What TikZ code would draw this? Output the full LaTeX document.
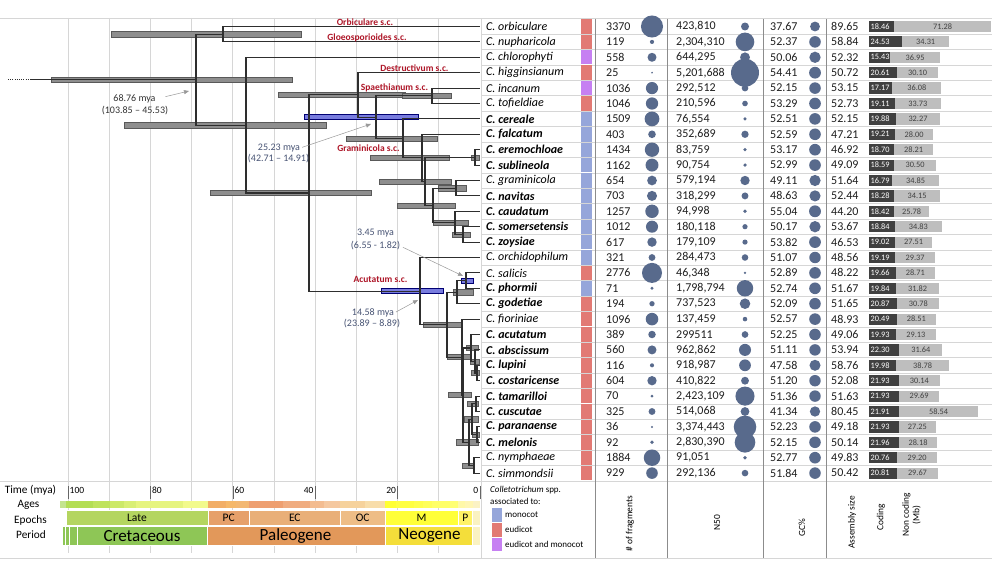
\documentclass[tikz,border=0pt]{standalone}
\usepackage{fontspec}
\setmainfont{Carlito}
\usepackage{xcolor}
\usetikzlibrary{arrows.meta}

\definecolor{bubble}{RGB}{88,106,140}
\definecolor{monocot}{RGB}{150,166,218}
\definecolor{eudicot}{RGB}{226,122,116}
\definecolor{eumono}{RGB}{198,128,242}
\definecolor{scred}{RGB}{174,22,40}
\definecolor{annblue}{RGB}{72,84,116}
\definecolor{hpdgray}{RGB}{142,142,142}
\definecolor{hpdblue}{RGB}{120,124,222}
\definecolor{codbar}{RGB}{64,64,64}
\definecolor{ncbar}{RGB}{190,190,190}
\definecolor{gridc}{RGB}{214,214,214}
\definecolor{cretac}{RGB}{142,198,86}
\definecolor{paleog}{RGB}{226,152,90}
\definecolor{neog}{RGB}{244,222,58}
\definecolor{quat}{RGB}{250,242,194}

\begin{document}
\begin{tikzpicture}[x=1pt,y=-1pt,
    branch/.style={draw=black!82,line width=1.1pt},
    hpd/.style={fill=hpdgray,draw=black!65,line width=0.5pt},
    hpdb/.style={fill=hpdblue,draw=blue!45!black,line width=0.5pt},
    nm/.style={anchor=west,inner sep=0pt,font=\fontsize{12}{13}\selectfont\itshape},
    nmb/.style={anchor=west,inner sep=0pt,font=\fontsize{12}{13}\selectfont\bfseries\itshape},
    num/.style={anchor=west,inner sep=0pt,font=\fontsize{12}{13}\selectfont,text=black!88},
    barnum/.style={inner sep=0pt,font=\fontsize{8.3}{9}\selectfont},
    sclab/.style={font=\fontsize{9.5}{10}\selectfont\bfseries,text=scred,inner sep=0pt},
    ann/.style={font=\fontsize{10}{11}\selectfont,inner sep=0pt},
    annarrow/.style={draw=black!40,line width=0.5pt,-{Triangle[length=5pt,width=4pt]}},
    gridline/.style={draw=gridc,line width=0.8pt},
    rowline/.style={draw=gridc,line width=0.6pt},
    colline/.style={draw=black!45,line width=0.6pt},
    cell/.style={draw=white,line width=0.8pt},
    rowlab/.style={font=\fontsize{11.3}{12}\selectfont,inner sep=0pt},
    hdr/.style={rotate=90,font=\fontsize{9.4}{10.5}\selectfont,inner sep=0pt,align=center},
    leg/.style={anchor=west,font=\fontsize{9}{10}\selectfont,inner sep=0pt}
]
    \useasboundingbox (0,0) rectangle (992,567);
    \fill[white] (0,0) rectangle (992,567);
    % grid
    \foreach \t in {10,20,...,100} { \draw[gridline] ({480-4.12*\t},18) -- ({480-4.12*\t},553); }
    \draw[rowline] (0,18.8) -- (992,18.8);
    \foreach \r in {1,...,29} { \draw[rowline] (481,{18.8+15.4*\r}) -- (992,{18.8+15.4*\r}); }
    \draw[rowline] (0,481.5) -- (992,481.5);
    \draw[rowline] (0,558) -- (992,558);
    \draw[rowline] (481,18.8) -- (481,558);
    \foreach \c in {595,667,763,826} { \draw[colline] (\c,18.8) -- (\c,558); }

    % time scale
    \foreach \a/\b/\c in {102/100.5/C4E48E,100.5/93.9/B3DE53,93.9/89.8/BFE35D,89.8/86.3/CCE968,
        86.3/83.6/D9EF74,83.6/72.1/E6F47F,72.1/66/F2FA8C,66/61.6/F2AE66,61.6/59.2/F5B86A,
        59.2/56/F3B872,56/47.8/EE9F70,47.8/41.2/F0AC80,41.2/37.8/F3BC90,37.8/33.9/F5C8A0,
        33.9/27.8/F6D29C,27.8/23.03/F8DDAA,23.03/20.44/FFFF33,20.44/15.97/FFFF41,15.97/13.82/FFFF4D,
        13.82/11.63/FFFF59,11.63/7.25/FFFF66,7.25/5.33/FFFF73,5.33/3.6/FFF8A8,3.6/1.8/FFF6B4,1.8/0/FBF2C4} {
        \edef\tmp{\noexpand\definecolor{agec}{HTML}{\c}}\tmp
        \fill[agec] ({480-4.12*\a},500.7) rectangle ({480-4.12*\b},508.3);
    }
    \foreach \a/\b/\c/\t [count=\j] in {100.5/66/B4D560/Late,66/56/E6A06A/PC,56/33.9/E9AF78/EC,
        33.9/23.03/EEBD86/OC,23.03/5.33/FFFF38/M,5.33/1.8/FFF266/P,1.8/0/FAF2C2/{}} {
        \edef\tmp{\noexpand\definecolor{epc}{HTML}{\c}}\tmp
        \path[cell,fill=epc] ({480-4.12*\a},510) rectangle ({480-4.12*\b},525.5);
        \node[font=\fontsize{11.5}{12}\selectfont,inner sep=0pt] (ep-\j) at ({480-2.06*(\a+\b)},517.7) {\t};
    }
    \foreach \l/\r in {62/65,65/69.6,69.6/77.5} { \path[cell,fill=cretac] (\l,526.7) rectangle (\r,545); }
    \path[cell,fill=cretac] (77.5,526.7) rectangle (207.5,545);
    \path[cell,fill=paleog] (207.5,526.7) rectangle (385,545);
    \path[cell,fill=neog] (385,526.7) rectangle (472.6,545);
    \path[cell,fill=quat] (472.6,526.7) rectangle (480,545);
    \node[font=\fontsize{17}{18}\selectfont,inner sep=0pt] (per-cret) at (142,536) {Cretaceous};
    \node[font=\fontsize{17}{18}\selectfont,inner sep=0pt] (per-pal) at (295.5,536.5) {Paleogene};
    \node[font=\fontsize{17}{18}\selectfont,inner sep=0pt] (per-neo) at (429.5,536) {Neogene};
    \node[rowlab] (lab-time) at (30.5,490) {Time (mya)};
    \node[rowlab] (lab-ages) at (28.5,505) {Ages};
    \node[rowlab] (lab-epochs) at (30.5,520) {Epochs};
    \node[rowlab] (lab-period) at (31,535) {Period};
    \foreach \t/\side in {100/west,80/west,60/west,40/east,20/east,0/east} {
        \draw[black!60,line width=0.6pt] ({480-4.12*\t},486) -- ({480-4.12*\t},499);
        \node[anchor=\side,inner sep=1.5pt,font=\fontsize{9.5}{10}\selectfont] (tk-\t) at ({480-4.12*\t},490) {\t};
    }

    % table
    \foreach \k/\nm/\sty/\col/\fr/\nt/\nv/\gc/\asm/\cod/\nc [count=\i] in {
        orb/{C. orbiculare}/nm/eudicot/3370/{423,810}/423.81/37.67/89.65/18.46/71.28,
        nup/{C. nupharicola}/nm/eudicot/119/{2,304,310}/2304.31/52.37/58.84/24.53/34.31,
        chl/{C. chlorophyti}/nm/eumono/558/{644,295}/644.295/50.06/52.32/15.43/36.95,
        hig/{C. higginsianum}/nm/eudicot/25/{5,201,688}/5201.688/54.41/50.72/20.61/30.10,
        inc/{C. incanum}/nm/eumono/1036/{292,512}/292.512/52.15/53.15/17.17/36.08,
        tof/{C. tofieldiae}/nm/eudicot/1046/{210,596}/210.596/53.29/52.73/19.11/33.73,
        cer/{C. cereale}/nmb/monocot/1509/{76,554}/76.554/52.51/52.15/19.88/32.27,
        fal/{C. falcatum}/nmb/monocot/403/{352,689}/352.689/52.59/47.21/19.21/28.00,
        ere/{C. eremochloae}/nmb/monocot/1434/{83,759}/83.759/53.17/46.92/18.70/28.21,
        sub/{C. sublineola}/nmb/monocot/1162/{90,754}/90.754/52.99/49.09/18.59/30.50,
        gra/{C. graminicola}/nm/monocot/654/{579,194}/579.194/49.11/51.64/16.79/34.85,
        nav/{C. navitas}/nmb/monocot/703/{318,299}/318.299/48.63/52.44/18.28/34.15,
        cau/{C. caudatum}/nmb/monocot/1257/{94,998}/94.998/55.04/44.20/18.42/25.78,
        som/{C. somersetensis}/nmb/monocot/1012/{180,118}/180.118/50.17/53.67/18.84/34.83,
        zoy/{C. zoysiae}/nmb/monocot/617/{179,109}/179.109/53.82/46.53/19.02/27.51,
        orc/{C. orchidophilum}/nm/monocot/321/{284,473}/284.473/51.07/48.56/19.19/29.37,
        sal/{C. salicis}/nm/eudicot/2776/{46,348}/46.348/52.89/48.22/19.66/28.71,
        pho/{C. phormii}/nmb/monocot/71/{1,798,794}/1798.794/52.74/51.67/19.84/31.82,
        god/{C. godetiae}/nmb/eudicot/194/{737,523}/737.523/52.09/51.65/20.87/30.78,
        fio/{C. fioriniae}/nm/eudicot/1096/{137,459}/137.459/52.57/48.93/20.49/28.51,
        acu/{C. acutatum}/nmb/eudicot/389/{299511}/299.511/52.25/49.06/19.93/29.13,
        abs/{C. abscissum}/nmb/eudicot/560/{962,862}/962.862/51.11/53.94/22.30/31.64,
        lup/{C. lupini}/nmb/eudicot/116/{918,987}/918.987/47.58/58.76/19.98/38.78,
        cos/{C. costaricense}/nmb/eudicot/604/{410,822}/410.822/51.20/52.08/21.93/30.14,
        tam/{C. tamarilloi}/nmb/eudicot/70/{2,423,109}/2423.109/51.36/51.63/21.93/29.69,
        cus/{C. cuscutae}/nmb/eudicot/325/{514,068}/514.068/41.34/80.45/21.91/58.54,
        par/{C. paranaense}/nmb/eudicot/36/{3,374,443}/3374.443/52.23/49.18/21.93/27.25,
        mel/{C. melonis}/nmb/eudicot/92/{2,830,390}/2830.39/52.15/50.14/21.96/28.18,
        nym/{C. nymphaeae}/nm/eudicot/1884/{91,051}/91.051/52.77/49.83/20.76/29.20,
        sim/{C. simmondsii}/nm/eudicot/929/{292,136}/292.136/51.84/50.42/20.81/29.67} {
        \pgfmathsetmacro\y{26.5+15.4*(\i-1)}
        \coordinate (\k) at (480,\y);
        \node[\sty] (n-\k) at (486,\y) {\nm};
        \fill[\col] (581,\y-7.2) rectangle (592,\y+7.2);
        \node[num] (f-\k) at (606,\y) {\fr};
        \pgfmathsetmacro\rf{0.19*sqrt(\fr)}
        \fill[bubble] (652,\y) circle[radius=\rf pt];
        \node[num] (nf-\k) at (676,\y) {\nt};
        \pgfmathsetmacro\rn{0.194*sqrt(\nv)}
        \fill[bubble] (745,\y) circle[radius=\rn pt];
        \node[num] (gc-\k) at (770,\y) {\gc};
        \pgfmathsetmacro\rg{0.8*sqrt(\gc)}
        \fill[bubble] (815,\y) circle[radius=\rg pt];
        \node[num] (as-\k) at (831,\y) {\asm};
        \pgfmathsetmacro\xc{869+1.36*\cod}
        \pgfmathsetmacro\xn{\xc+1.36*\nc}
        \fill[codbar] (869,\y-5.6) rectangle (\xc,\y+5.6);
        \fill[ncbar] (\xc,\y-5.6) rectangle (\xn,\y+5.6);
        \node[barnum,text=white,anchor=west] (cd-\k) at (870.5,\y) {\cod};
        \node[barnum,text=black!75] (nc-\k) at ({(\xc+\xn)/2},\y) {\nc};
    }

    % node ages with HPD bars
    \foreach \n/\x/\y/\lo/\hi/\s in {
        root/196/79.67/51/292/hpd, og/223/34.2/111/301/hpd, n246/246/125.15/124/326/hpd,
        n309/309/192.99/210/371/hpd, n358/358/94.9/278/405/hpd, sp/432/95.8/402/451/hpd,
        n376/376/117.1/304/418/hpdb, n403/403/138.4/346/437/hpd, n422/422/157.9/370/449/hpd,
        es/475/157.4/471/479/hpd, n425/425/181.45/379/451/hpd, gn/456/188.2/438/466/hpd,
        n433/433/205.5/397/455/hpd, csz/455/222.85/433/468/hpd, sz/463/234.4/452/470/hpd,
        n420/420/291.07/381/443/hpdb, a1/447/324.64/423/462/hpd, b1/457/292.15/453/473/hpd,
        salpho/466/280.6/461/473/hpdb, b2/462/357.12/447/471/hpd, c1/463/395.14/448/471/hpd,
        d1/471/347.98/466/478/hpd, k/475/361.45/470/479/hpd, lc/477/373/471/479/hpd,
        d3/469/442.3/456/478/hpd, e1/472/419.2/464/478/hpd, tc/476/403.8/467/478/hpd,
        pm/477/434.6/472/479/hpd, d2/474/465.4/462/474/hpd} {
        \draw[\s] (\lo,\y-2.6) rectangle (\hi,\y+2.6);
        \coordinate (\n) at (\x,\y);
    }

    % tree
    \coordinate (rootin) at (30,79.67);
    \coordinate (rootend) at (8,79.67);
    \draw[draw=black!82,line width=0.8pt,dash pattern=on 1pt off 1.2pt] (rootend) -- (rootin);
    \draw[branch] (rootin) -- (root);
    \foreach \p/\c in {root/og,root/n246,og/orb,og/nup,n246/chl,n246/n309,n309/n358,n309/n420,
        n358/hig,n358/n376,n376/sp,n376/n403,sp/inc,sp/tof,n403/cer,n403/n422,n422/fal,n422/n425,
        n425/es,n425/n433,es/ere,es/sub,n433/gn,n433/csz,gn/gra,gn/nav,csz/cau,csz/sz,sz/som,sz/zoy,
        n420/orc,n420/a1,a1/b1,a1/b2,b1/salpho,b1/god,salpho/sal,salpho/pho,b2/fio,b2/c1,
        c1/d1,c1/d3,d1/acu,d1/k,k/abs,k/lc,lc/lup,lc/cos,d3/e1,d3/d2,e1/tc,e1/pm,
        tc/tam,tc/cus,pm/par,pm/mel,d2/nym,d2/sim} {
        \draw[branch] (\p) |- (\c);
    }

    % clade labels
    \node[sclab] (sc-orb) at (365,22.5) {Orbiculare s.c.};
    \node[sclab] (sc-glo) at (367,38) {Gloeosporioides s.c.};
    \node[sclab] (sc-des) at (414.5,68) {Destructivum s.c.};
    \node[sclab] (sc-spa) at (394.5,87.5) {Spaethianum s.c.};
    \node[sclab] (sc-gra) at (368.5,148) {Graminicola s.c.};
    \node[sclab] (sc-acu) at (380.5,279) {Acutatum s.c.};

    % dated nodes
    \node[ann,text=black!80] (m6876) at (134.5,99) {68.76 mya};
    \node[ann,text=black!80] (r6876) at (135,111) {(103.85 – 45.53)};
    \coordinate (p6876) at (189,91);
    \draw[annarrow,shorten <=10pt] (m6876.east) -- (p6876);
    \node[ann,text=annblue] (m2523) at (279,148) {25.23 mya};
    \node[ann,text=annblue] (r2523) at (278.5,159) {(42.71 – 14.91)};
    \coordinate (p2523) at (371,124);
    \draw[annarrow,shorten <=2pt] (m2523.east) -- (p2523);
    \node[ann,text=annblue] (m345) at (375.5,233) {3.45 mya};
    \node[ann,text=annblue] (r345) at (375.5,246) {(6.55 - 1.82)};
    \coordinate (p345) at (463,276);
    \draw[annarrow,shorten <=3pt] (r345.east) -- (p345);
    \node[ann,text=annblue] (m1458) at (373,313) {14.58 mya};
    \node[ann,text=annblue] (r1458) at (372,324) {(23.89 – 8.89)};
    \coordinate (p1458) at (418,300);
    \draw[annarrow,shorten <=2pt] (m1458.east) -- (p1458);

    % legend
    \node[leg] (leg-title) at (490,490) {\textit{Colletotrichum} spp.};
    \node[leg] (leg-assoc) at (490,501.5) {associated to:};
    \foreach \c/\t [count=\j] in {monocot/monocot,eudicot/eudicot,eumono/eudicot and monocot} {
        \fill[\c] (492,{493.5+14.8*\j}) rectangle (502,{507+14.8*\j});
        \node[leg] (leg-\j) at (505,{500.3+14.8*\j}) {\t};
    }

    % column headers
    \node[hdr] (h-frag) at (630,523.5) {\# of fragments};
    \node[hdr] (h-n50) at (717,522.5) {N50};
    \node[hdr] (h-gc) at (802,527.5) {GC\%};
    \node[hdr] (h-asm) at (852,522.5) {Assembly size};
    \node[hdr] (h-cod) at (881,517.5) {Coding};
    \node[hdr] (h-nc) at (911.5,515) {Non coding\\(Mb)};
\end{tikzpicture}
\end{document}
